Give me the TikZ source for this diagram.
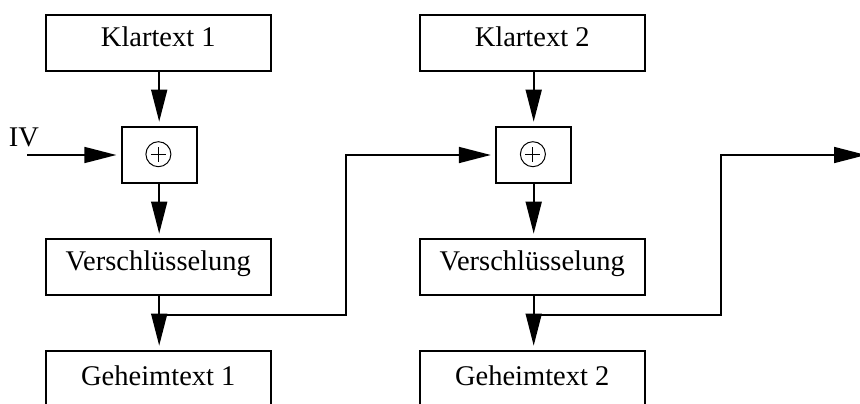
\documentclass[tikz,border=0pt]{standalone}
\usepackage{fontspec}
\setmainfont{Liberation Serif}
\usetikzlibrary{arrows.meta}

\tikzset{
  blockbox/.style={draw, line width=1.7pt, minimum width=225pt, minimum height=56pt,
    inner sep=0pt, text height=0.66em, text depth=0pt},
  xorbox/.style={draw, line width=1.7pt, minimum width=75pt, minimum height=56pt,
    inner sep=0pt,
    path picture={
      \draw[line width=1pt] (path picture bounding box.center) ++(-0.8pt,0.8pt) circle[radius=12.5pt];
      \draw[line width=1pt] (path picture bounding box.center) ++(-0.8pt,0.8pt)
        +(-7.5pt,0) -- +(7.5pt,0) +(0,-7.5pt) -- +(0,7.5pt);
    }},
  flow/.style={line width=1.7pt, -{Triangle[length=32pt,width=16pt]}},
  gap/.style={shorten >=4.5pt},
}

\begin{document}
\begin{tikzpicture}[x=1pt, y=-1pt, font=\fontsize{28.5}{34}\selectfont]
  \clip (0,0) rectangle (860,404);
  \useasboundingbox (0,0) rectangle (860,404);

  % first block
  \node[blockbox] (k1) at (158.3,43) {Klartext 1};
  \node[xorbox]   (x1) at (159.2,155) {};
  \node[blockbox] (v1) at (158.3,267) {Verschlüsselung};
  \node[blockbox, minimum height=62pt] (g1) at (158.3,382) {Geheimtext 1};

  % second block
  \node[blockbox] (k2) at (532.2,43) {Klartext 2};
  \node[xorbox]   (x2) at (533.7,155) {};
  \node[blockbox] (v2) at (532.2,267) {Verschlüsselung};
  \node[blockbox, minimum height=62pt] (g2) at (532.2,382) {Geheimtext 2};

  % initialisation vector
  \node (iv) at (24,137) {IV};
  \coordinate (ivstart) at (27,155);
  \draw[flow, gap] (ivstart) -- (x1.west);

  % vertical data flow
  \draw[flow, gap] (k1.south -| x1.north) -- (x1.north);
  \draw[flow, gap] (x1.south) -- (v1.north -| x1.south);
  \draw[flow, gap] (v1.south -| x1.south) -- (g1.north -| x1.south);

  \draw[flow, gap] (k2.south -| x2.north) -- (x2.north);
  \draw[flow, gap] (x2.south) -- (v2.north -| x2.south);
  \draw[flow, gap] (v2.south -| x2.south) -- (g2.north -| x2.south);

  % chaining of the ciphertext into the next block
  \coordinate (j1) at (159.2,315);
  \coordinate (r1) at (345.7,315);
  \draw[flow, gap] (j1) -- (r1) |- (x2.west);

  \coordinate (j2) at (533.7,315);
  \coordinate (r2) at (720.7,315);
  \coordinate (next) at (866,155);
  \draw[flow] (j2) -- (r2) |- (next);
\end{tikzpicture}
\end{document}
